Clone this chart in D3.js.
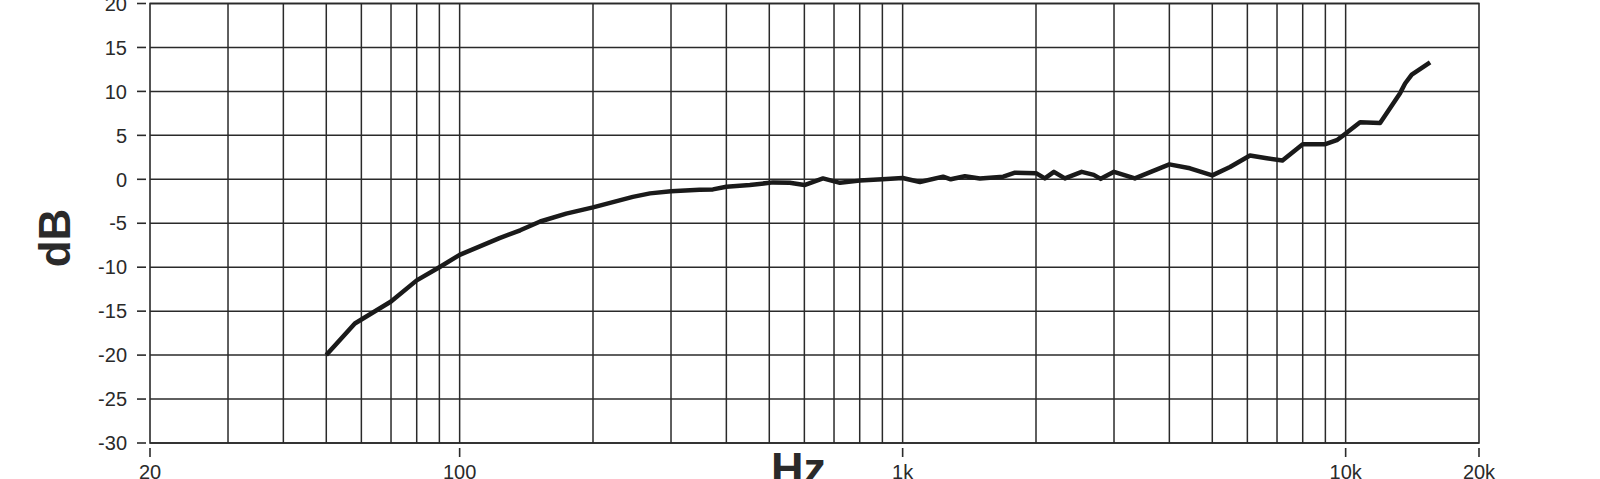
<!DOCTYPE html>
<html>
<head>
<meta charset="utf-8">
<script src="https://cdn.jsdelivr.net/npm/d3@7"></script>
<style>
  html, body { margin: 0; padding: 0; background: #fff; }
  svg { display: block; }
  text { font-family: "Liberation Sans", Arial, Helvetica, sans-serif; fill: #2a2a2a; }
</style>
</head>
<body>
<svg id="chart" width="1600" height="479"></svg>
<script>
// ---- data ----
const freqHz = [50, 58, 70, 80, 90, 100, 123, 137, 152, 174, 200, 246, 269, 300, 348, 373, 400, 452, 510, 556, 600, 661, 722, 800, 900, 1000, 1094, 1234, 1284, 1382, 1494, 1687, 1793, 2000, 2094, 2195, 2324, 2536, 2700, 2800, 3000, 3343, 4000, 4452, 5000, 5483, 6082, 6636, 7200, 8000, 9000, 9550, 10000, 10780, 11960, 13270, 13620, 14100, 15510];
const levelDb = [-20, -16.4, -13.9, -11.5, -10, -8.6, -6.7, -5.8, -4.8, -3.9, -3.2, -2.0, -1.6, -1.35, -1.2, -1.15, -0.85, -0.65, -0.35, -0.4, -0.65, 0.1, -0.4, -0.15, 0, 0.15, -0.3, 0.3, 0, 0.35, 0.1, 0.3, 0.75, 0.7, 0.1, 0.85, 0.1, 0.85, 0.5, 0.05, 0.85, 0.1, 1.7, 1.25, 0.45, 1.4, 2.7, 2.4, 2.15, 4.0, 4.0, 4.45, 5.2, 6.5, 6.4, 9.8, 10.9, 11.9, 13.3];
const gridFreqs = [30, 40, 50, 60, 70, 80, 90, 100, 200, 300, 400, 500, 600, 700, 800, 900, 1000, 2000, 3000, 4000, 5000, 6000, 7000, 8000, 9000, 10000];
const xTickValues = [20, 100, 1000, 10000, 20000];
const xTickLabels = ["20", "100", "1k", "10k", "20k"];
const yTickValues = [20, 15, 10, 5, 0, -5, -10, -15, -20, -25, -30];
const xDomain = [20, 20000];
const yDomain = [-30, 20];

(function () {
  const svg = d3.select("#chart");
  const pl = 150, pr = 1479, pt = 3.5, pb = 443;
  const x = d3.scaleLog().domain(xDomain).range([pl, pr]);
  const y = d3.scaleLinear().domain(yDomain).range([pb, pt]);
  const ink = "#2a2a2a";

  // horizontal grid
  svg.append("g").selectAll("line").data(yTickValues).join("line")
    .attr("x1", pl).attr("x2", pr)
    .attr("y1", d => y(d)).attr("y2", d => y(d))
    .attr("stroke", ink).attr("stroke-width", 1.5);

  // vertical grid
  svg.append("g").selectAll("line").data(gridFreqs).join("line")
    .attr("x1", d => x(d)).attr("x2", d => x(d))
    .attr("y1", pt).attr("y2", pb)
    .attr("stroke", ink).attr("stroke-width", 1.5);

  // border
  svg.append("rect")
    .attr("x", pl).attr("y", pt)
    .attr("width", pr - pl).attr("height", pb - pt)
    .attr("fill", "none").attr("stroke", ink).attr("stroke-width", 1.6);

  // y axis ticks & labels
  const yAxis = svg.append("g");
  yAxis.selectAll("line").data(yTickValues).join("line")
    .attr("x1", 137).attr("x2", 146)
    .attr("y1", d => y(d)).attr("y2", d => y(d))
    .attr("stroke", ink).attr("stroke-width", 1.6);
  yAxis.selectAll("text").data(yTickValues).join("text")
    .attr("x", 127).attr("y", d => y(d))
    .attr("text-anchor", "end").attr("dy", "0.36em")
    .attr("font-size", 20)
    .text(d => d);

  // x axis ticks & labels
  const xAxis = svg.append("g");
  xAxis.selectAll("line").data(xTickValues).join("line")
    .attr("x1", d => x(d)).attr("x2", d => x(d))
    .attr("y1", 448).attr("y2", 457)
    .attr("stroke", ink).attr("stroke-width", 1.6);
  xAxis.selectAll("text").data(xTickValues).join("text")
    .attr("x", d => x(d)).attr("y", 479)
    .attr("text-anchor", "middle")
    .attr("font-size", 20)
    .text((d, i) => xTickLabels[i]);

  // axis titles
  svg.append("text")
    .attr("transform", "translate(70,238) rotate(-90)")
    .attr("text-anchor", "middle")
    .attr("font-size", 44).attr("font-weight", "bold")
    .attr("fill", "#222")
    .text("dB");
  svg.append("text")
    .attr("x", 771).attr("y", 484)
    .attr("font-size", 45).attr("font-weight", "bold")
    .attr("fill", "#222")
    .text("Hz");

  // response curve
  const pts = freqHz.map((f, i) => [f, levelDb[i]]);
  svg.append("path")
    .datum(pts)
    .attr("d", d3.line().x(d => x(d[0])).y(d => y(d[1])))
    .attr("fill", "none")
    .attr("stroke", "#1a1a1a")
    .attr("stroke-width", 4.5)
    .attr("stroke-linejoin", "round")
    .attr("stroke-linecap", "butt");
})();
</script>
</body>
</html>
